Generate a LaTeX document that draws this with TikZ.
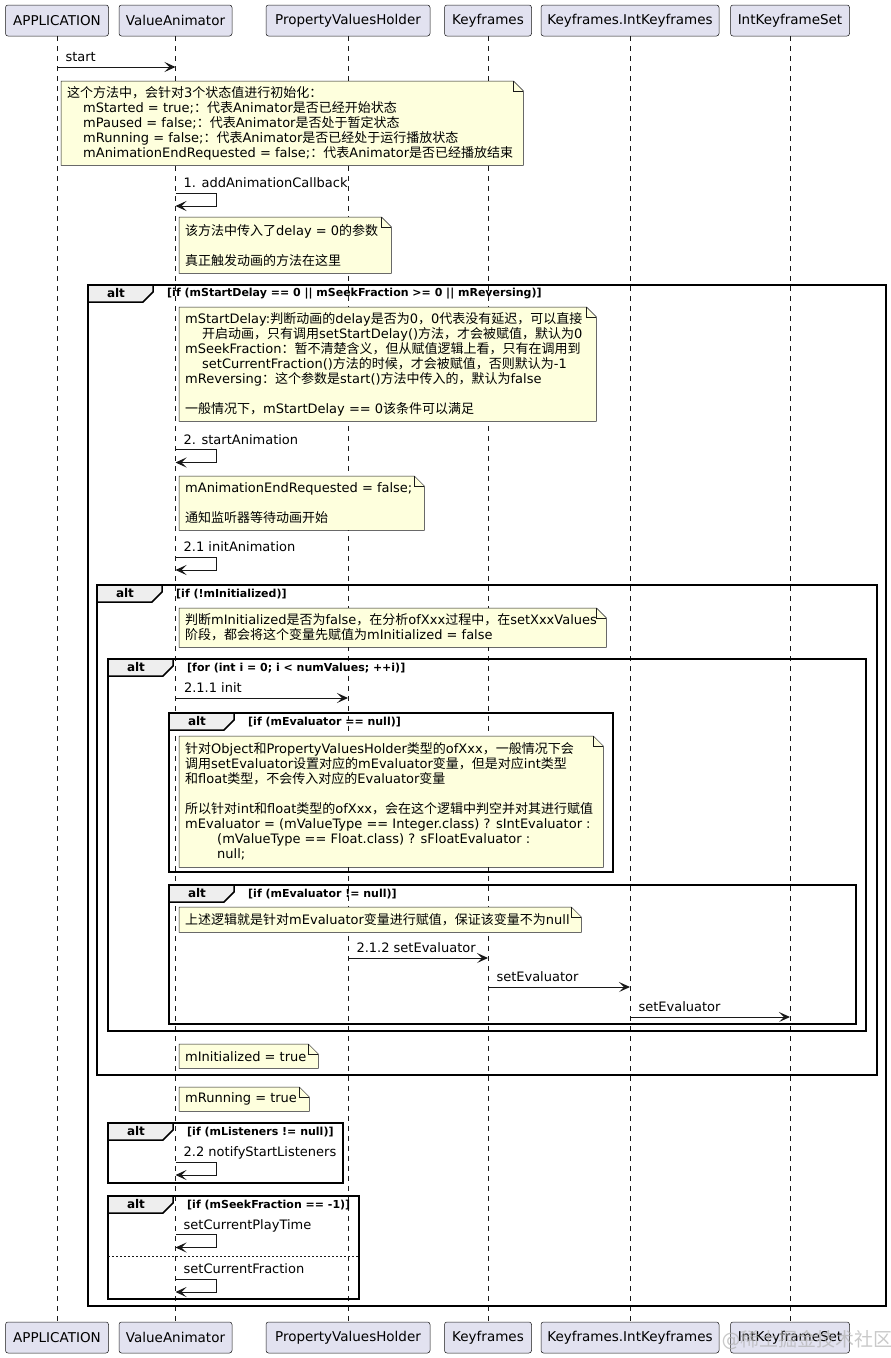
\documentclass[tikz,border=0pt]{standalone}
\usepackage{fontspec}
\setmainfont{DejaVu Sans}
\newfontfamily\latinfont{DejaVu Sans}
\newfontfamily\cjkfont{Noto Sans CJK SC}
\XeTeXinterchartokenstate=1
\newXeTeXintercharclass\cjkclass
\newcount\cjkchar
\cjkchar="4E00
\loop
  \XeTeXcharclass\cjkchar=\cjkclass
\ifnum\cjkchar<"9FFF
  \advance\cjkchar by 1
\repeat
\XeTeXcharclass"FF0C=\cjkclass
\XeTeXcharclass"FF1A=\cjkclass
\XeTeXinterchartoks 0 \cjkclass={\cjkfont}
\XeTeXinterchartoks 4095 \cjkclass={\cjkfont}
\XeTeXinterchartoks \cjkclass 0={\latinfont}
\XeTeXinterchartoks \cjkclass 4095={\latinfont}
\usepackage{xcolor}
\usepackage{tikz}
\usetikzlibrary{arrows.meta, positioning, calc}
\definecolor{partbg}{HTML}{E2E2F0}
\definecolor{notebg}{HTML}{FEFFDD}
\definecolor{tabbg}{HTML}{EEEEEE}
\definecolor{ink}{HTML}{181818}
\newcommand{\notefold}[1]{%
  \fill[white] ($(#1.north east)+(-10,0)$) -- (#1.north east) -- ($(#1.north east)+(0,10)$) -- cycle;
  \draw[ink, line width=0.5pt] (#1.north west) -- ($(#1.north east)+(-10,0)$) -- ($(#1.north east)+(0,10)$) -- (#1.south east) -- (#1.south west) -- cycle;
  \draw[ink, line width=0.5pt] ($(#1.north east)+(-10,0)$) |- ($(#1.north east)+(0,10)$);
}

\begin{document}
\begin{tikzpicture}[x=1pt, y=-1pt,
  font=\fontsize{13}{15}\selectfont,
  part/.style={draw=ink, line width=0.5pt, fill=partbg, rounded corners=2.5pt, minimum height=31, inner xsep=6pt, font=\fontsize{13.5}{16}\selectfont},
  life/.style={draw=ink, line width=0.5pt, dash pattern=on 5pt off 5pt},
  msg/.style={draw=ink, line width=1pt, -{Stealth[length=11pt, width=10pt, inset=5pt]}},
  lbl/.style={anchor=base west, inner sep=0pt, xshift=8pt, yshift=5.5pt},
  note/.style={fill=notebg, anchor=north west, inner sep=0pt},
  notetext/.style={align=left, inner sep=0pt},
  frame/.style={draw=black, line width=1.5pt},
  tab/.style={frame, fill=tabbg},
  altlbl/.style={inner sep=0pt, font=\fontsize{12}{14}\selectfont\bfseries},
  cond/.style={anchor=west, inner sep=0pt, font=\fontsize{11}{13}\selectfont\bfseries},
  sep/.style={draw=ink, line width=1pt, dash pattern=on 2pt off 2pt},
  wm/.style={text=gray!60, text opacity=0.7, font=\fontsize{19}{22}\selectfont}
]
\useasboundingbox (0,0) rectangle (891,1358);

\foreach \n/\x/\w/\t in {app/57/103/APPLICATION, va/175.5/113/ValueAnimator,
    pvh/348/164/PropertyValuesHolder, kf/488/87/Keyframes,
    ikf/630/178/Keyframes.IntKeyframes, iks/790/119/IntKeyframeSet} {
  \node[part, minimum width=\w] (\n-top) at (\x,20.5) {\t};
  \node[part, minimum width=\w] (\n-bot) at (\x,1337.5) {\t};
  \draw[life] (\n-top) -- (\n-bot);
}

\foreach \i/\xa/\ya/\xb/\yb/\c in {
    1/88/285/886/1306/{[if (mStartDelay == 0 || mSeekFraction >= 0 || mReversing)]},
    2/97/585/877/1075/{[if (!mInitialized)]},
    3/108/659/866/1031/{[for (int i = 0; i < numValues; ++i)]},
    4/169/713/613/872/{[if (mEvaluator == null)]},
    5/169/885/856/1024/{[if (mEvaluator != null)]},
    6/108/1123/343/1183/{[if (mListeners != null)]},
    7/108/1196/359/1299/{[if (mSeekFraction == -1)]}} {
  \draw[frame] (\xa,\ya) rectangle (\xb,\yb);
  \draw[tab] (\xa,\ya) -- ++(65,0) -- ++(0,7) -- ++(-10,10) -- (\xa,\ya+17) -- cycle;
  \node[altlbl] (alt\i) at (\xa+28,\ya+8.5) {alt};
  \node[cond] (cond\i) at (\xa+79,\ya+9) {\c};
}
\draw[sep] (108,1256) -- (359,1256);

\coordinate (m1a) at (57,67);
\coordinate (m1b) at (175.5,67);
\draw[msg] (m1a) -- (m1b) node[lbl, pos=0] (start) {start};

\node[note, minimum width=462, minimum height=84] (n1) at (61,81) {};
\notefold{n1}
\node[notetext, right=6pt of n1.west] (n1t) {这个方法中，会针对3个状态值进行初始化：\\
  \hspace*{16pt}mStarted = true;：代表Animator是否已经开始状态\\
  \hspace*{16pt}mPaused = false;：代表Animator是否处于暂定状态\\
  \hspace*{16pt}mRunning = false;：代表Animator是否已经处于运行播放状态\\
  \hspace*{16pt}mAnimationEndRequested = false;：代表Animator是否已经播放结束};

\coordinate (s1a) at (175.5,193);
\coordinate (s1b) at (175.5,206);
\draw[msg] (s1a) -- ++(41,0) |- (s1b);
\node[lbl] (s1) at (s1a) {1. addAnimationCallback};

\node[note, minimum width=212, minimum height=56] (n2) at (179,217) {};
\notefold{n2}
\node[notetext, right=6pt of n2.west] (n2t) {该方法中传入了delay = 0的参数\\[15pt]
  真正触发动画的方法在这里};

\node[note, minimum width=417, minimum height=114] (n3) at (179,307) {};
\notefold{n3}
\node[notetext, right=6pt of n3.west] (n3t) {mStartDelay:判断动画的delay是否为0，0代表没有延迟，可以直接\\
  \hspace*{17pt}开启动画，只有调用setStartDelay()方法，才会被赋值，默认为0\\
  mSeekFraction：暂不清楚含义，但从赋值逻辑上看，只有在调用到\\
  \hspace*{17pt}setCurrentFraction()方法的时候，才会被赋值，否则默认为-1\\
  mReversing：这个参数是start()方法中传入的，默认为false\\[15pt]
  一般情况下，mStartDelay == 0该条件可以满足};

\coordinate (s2a) at (175.5,449.5);
\coordinate (s2b) at (175.5,462.5);
\draw[msg] (s2a) -- ++(41,0) |- (s2b);
\node[lbl] (s2) at (s2a) {2. startAnimation};

\node[note, minimum width=245, minimum height=54] (n4) at (179,476) {};
\notefold{n4}
\node[notetext, right=6pt of n4.west] (n4t) {mAnimationEndRequested = false;\\[15pt]
  通知监听器等待动画开始};

\coordinate (s3a) at (175.5,557);
\coordinate (s3b) at (175.5,570);
\draw[msg] (s3a) -- ++(41,0) |- (s3b);
\node[lbl] (s3) at (s3a) {2.1 initAnimation};

\node[note, minimum width=427, minimum height=39] (n5) at (179,608) {};
\notefold{n5}
\node[notetext, right=6pt of n5.west] (n5t) {判断mInitialized是否为false，在分析ofXxx过程中，在setXxxValues\\
  阶段，都会将这个变量先赋值为mInitialized = false};

\coordinate (m2a) at (175.5,698);
\coordinate (m2b) at (348,698);
\draw[msg] (m2a) -- (m2b) node[lbl, pos=0] (init) {2.1.1 init};

\node[note, minimum width=424, minimum height=131] (n6) at (179,736) {};
\notefold{n6}
\node[notetext, right=6pt of n6.west] (n6t) {针对Object和PropertyValuesHolder类型的ofXxx，一般情况下会\\
  调用setEvaluator设置对应的mEvaluator变量，但是对应int类型\\
  和float类型，不会传入对应的Evaluator变量\\[15pt]
  所以针对int和float类型的ofXxx，会在这个逻辑中判空并对其进行赋值\\
  mEvaluator = (mValueType == Integer.class) ? sIntEvaluator :\\
  \hspace*{32pt}(mValueType == Float.class) ? sFloatEvaluator :\\
  \hspace*{32pt}null;};

\node[note, minimum width=402, minimum height=25] (n7) at (179,907) {};
\notefold{n7}
\node[notetext, right=6pt of n7.west] (n7t) {上述逻辑就是针对mEvaluator变量进行赋值，保证该变量不为null};

\coordinate (m3a) at (348,958);
\coordinate (m3b) at (488,958);
\draw[msg] (m3a) -- (m3b) node[lbl, pos=0] (se1) {2.1.2 setEvaluator};
\coordinate (m4a) at (488,987);
\coordinate (m4b) at (630,987);
\draw[msg] (m4a) -- (m4b) node[lbl, pos=0] (se2) {setEvaluator};
\coordinate (m5a) at (630,1017);
\coordinate (m5b) at (790,1017);
\draw[msg] (m5a) -- (m5b) node[lbl, pos=0] (se3) {setEvaluator};

\node[note, minimum width=139, minimum height=24] (n8) at (179,1044) {};
\notefold{n8}
\node[notetext, right=6pt of n8.west] (n8t) {mInitialized = true};

\node[note, minimum width=130, minimum height=24] (n9) at (179,1087) {};
\notefold{n9}
\node[notetext, right=6pt of n9.west] (n9t) {mRunning = true};

\coordinate (s4a) at (175.5,1162);
\coordinate (s4b) at (175.5,1175);
\draw[msg] (s4a) -- ++(41,0) |- (s4b);
\node[lbl] (s4) at (s4a) {2.2 notifyStartListeners};

\coordinate (s5a) at (175.5,1234.5);
\coordinate (s5b) at (175.5,1247.5);
\draw[msg] (s5a) -- ++(41,0) |- (s5b);
\node[lbl] (s5) at (s5a) {setCurrentPlayTime};

\coordinate (s6a) at (175.5,1279);
\coordinate (s6b) at (175.5,1292);
\draw[msg] (s6a) -- ++(41,0) |- (s6b);
\node[lbl] (s6) at (s6a) {setCurrentFraction};

\node[wm] (wm) at (807,1340) {@稀土掘金技术社区};
\end{tikzpicture}
\end{document}
